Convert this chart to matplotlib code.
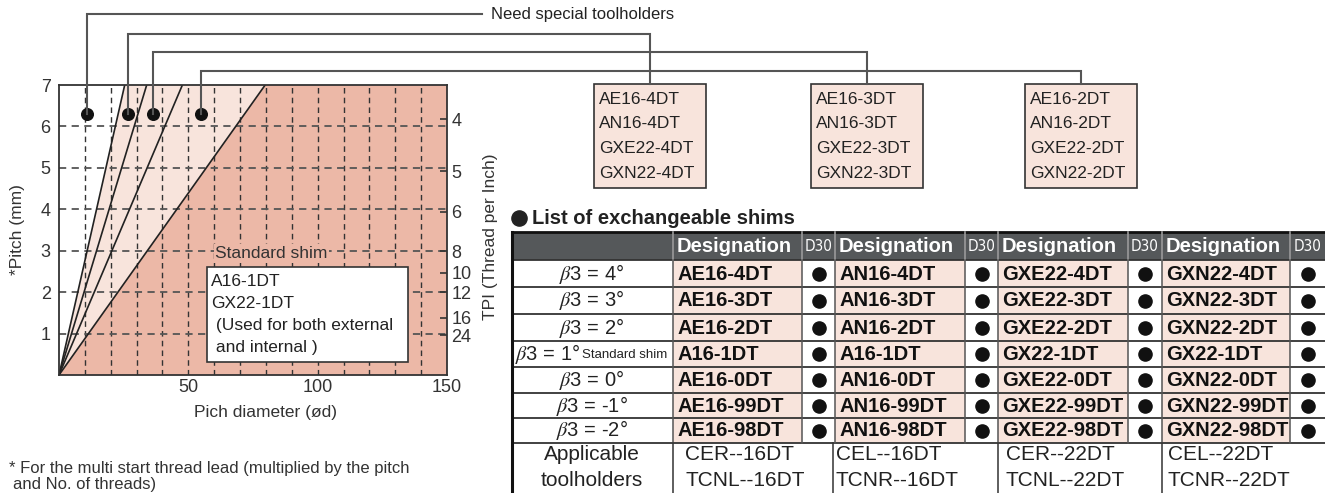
import numpy as np
import matplotlib.pyplot as plt
from matplotlib.patches import Rectangle, Polygon

plt.rcParams['font.family'] = ['Liberation Sans', 'DejaVu Sans']
plt.rcParams['mathtext.fontset'] = 'stix'

# ---- chart data ----
pitch_ticks = [1, 2, 3, 4, 5, 6, 7]
dia_ticks = [50, 100, 150]
dia_grid = [10, 20, 30, 40, 50, 60, 70, 80, 90, 100, 110, 120, 130, 140]
tpi_labels = [4, 5, 6, 8, 10, 12, 16, 24]
tpi_pitch = [6.17, 4.92, 3.94, 2.99, 2.47, 2.0, 1.38, 0.96]
limit_dia = [25.4, 33.9, 47.7, 79.7]   # diameter where each limit line meets pitch 7
dot_dia = [11, 26.5, 36.5, 54.8]
dot_pitch = [6.3, 6.3, 6.3, 6.3]

standard_shim = ["A16-1DT", "GX22-1DT", " (Used for both external", " and internal )"]
special_shims = [
    ["AE16-4DT", "AN16-4DT", "GXE22-4DT", "GXN22-4DT"],
    ["AE16-3DT", "AN16-3DT", "GXE22-3DT", "GXN22-3DT"],
    ["AE16-2DT", "AN16-2DT", "GXE22-2DT", "GXN22-2DT"],
]

# ---- table data ----
beta_angles = ["4°", "3°", "2°", "1°", "0°", "-1°", "-2°"]
ae16 = ["AE16-4DT", "AE16-3DT", "AE16-2DT", "A16-1DT", "AE16-0DT", "AE16-99DT", "AE16-98DT"]
an16 = ["AN16-4DT", "AN16-3DT", "AN16-2DT", "A16-1DT", "AN16-0DT", "AN16-99DT", "AN16-98DT"]
gxe22 = ["GXE22-4DT", "GXE22-3DT", "GXE22-2DT", "GX22-1DT", "GXE22-0DT", "GXE22-99DT", "GXE22-98DT"]
gxn22 = ["GXN22-4DT", "GXN22-3DT", "GXN22-2DT", "GX22-1DT", "GXN22-0DT", "GXN22-99DT", "GXN22-98DT"]
d30 = [[True] * 7, [True] * 7, [True] * 7, [True] * 7]
toolholders = [["CER--16DT", "TCNL--16DT"], ["CEL--16DT", "TCNR--16DT"],
               ["CER--22DT", "TCNL--22DT"], ["CEL--22DT", "TCNR--22DT"]]

LIGHT = '#f8e4dc'
DARK = '#ecb8a7'
HEAD = '#55585a'
EDGE = '#333333'

W, H = 1325, 493
fig = plt.figure(figsize=(W / 100, H / 100), dpi=100)

# ---- chart ----
ax = fig.add_axes([59 / W, (H - 375) / H, (447 - 59) / W, (375 - 85) / H])
ax.set_xlim(0, 150)
ax.set_ylim(0, 7)
ax.add_patch(Polygon([(0, 0), (limit_dia[0], 7), (limit_dia[-1], 7)], fc=LIGHT, ec='none', zorder=0))
ax.add_patch(Polygon([(0, 0), (limit_dia[-1], 7), (150, 7), (150, 0)], fc=DARK, ec='none', zorder=0))
for x in dia_grid:
    ax.axvline(x, color='#333333', lw=1.0, ls=(0, (4, 3)), zorder=1)
for y in pitch_ticks[:-1]:
    ax.axhline(y, color='#555555', lw=1.3, ls=(0, (4, 3)), zorder=1)
for d in limit_dia:
    ax.plot([0, d], [0, 7], color='#222222', lw=1.2, zorder=2)
ax.scatter(dot_dia, dot_pitch, s=70, color='#111111', zorder=3)

ax.set_xticks(dia_ticks)
ax.set_yticks(pitch_ticks)
ax.tick_params(length=0, labelsize=13, labelcolor='#333333')
ax.tick_params(axis='x', pad=3)
ax.tick_params(axis='y', pad=6)
for s in ax.spines.values():
    s.set_color(EDGE)
    s.set_linewidth(1.3)

ax2 = ax.twinx()
ax2.set_ylim(0, 7)
ax2.set_yticks(tpi_pitch, [str(t) for t in tpi_labels])
ax2.tick_params(direction='in', length=5, width=1.2, pad=3, labelsize=13,
                color=EDGE, labelcolor='#333333')
for s in ax2.spines.values():
    s.set_visible(False)

# ---- overlay in pixel coordinates ----
ov = fig.add_axes([0, 0, 1, 1])
ov.set_xlim(0, W)
ov.set_ylim(H, 0)
ov.axis('off')

ov.text(18, 230, "*Pitch (mm)", rotation=90, ha='center', va='center', fontsize=12.5, color='#333333')
ov.text(265, 413, "Pich diameter (ød)", ha='center', va='center', fontsize=12.5, color='#333333')
ov.text(490, 237, "TPI (Thread per Inch)", rotation=90, ha='center', va='center', fontsize=12.5, color='#333333')

ov.text(215, 253, "Standard shim", ha='left', va='center', fontsize=12.5, color='#333333',
        bbox=dict(fc=DARK, ec='none', pad=1))
ov.add_patch(Rectangle((207, 267), 201, 95, fc='white', ec=EDGE, lw=1.2))
for i, s in enumerate(standard_shim):
    ov.text(211, 282 + i * 21.7, s, ha='left', va='center', fontsize=12.5, color='#222222')

ov.text(9, 468, "* For the multi start thread lead (multiplied by the pitch", ha='left', va='center',
        fontsize=12, color='#333333')
ov.text(13, 485, "and No. of threads)", ha='left', va='center', fontsize=12, color='#333333')

# connectors from dots
box_left = [594, 811, 1025]
box_w = 112
level_y = [14, 34, 52, 70.7]
for i in range(len(dot_dia)):
    px, py = ax.transData.transform((dot_dia[i], dot_pitch[i]))
    py = H - py
    if i == 0:
        xs = [px, px, 482]
        ys = [py, level_y[i], level_y[i]]
    else:
        cx = box_left[i - 1] + box_w / 2
        xs = [px, px, cx, cx]
        ys = [py, level_y[i], level_y[i], 84]
    ov.plot(xs, ys, color='#555555', lw=1.5, solid_joinstyle='miter')
ov.text(491, 15, "Need special toolholders", ha='left', va='center', fontsize=12, color='#222222')

for b, names in enumerate(special_shims):
    ov.add_patch(Rectangle((box_left[b], 84), box_w, 104, fc=LIGHT, ec=EDGE, lw=1.2))
    for j, s in enumerate(names):
        ov.text(box_left[b] + 5, 99 + j * 24.7, s, ha='left', va='center', fontsize=12.5, color='#222222')

# ---- table ----
ov.scatter([519], [218], s=120, color='#222222')
ov.text(532, 218, "List of exchangeable shims", ha='left', va='center', fontsize=14.5,
        fontweight='bold', color='#222222')

col_edges = [512, 673, 802, 835, 965, 998, 1128, 1162, 1290, 1325]
row_edges = [232, 260, 287, 314, 341, 367, 393, 418, 443, 493]
design_cols = [ae16, an16, gxe22, gxn22]

ov.add_patch(Rectangle((512, 232), 1325 - 512, 28, fc=HEAD, ec='none'))
for c in range(4):
    x0 = col_edges[1 + 2 * c]
    x1 = col_edges[2 + 2 * c]
    x2 = col_edges[3 + 2 * c]
    ov.text(x0 + 4, 246.5, "Designation", ha='left', va='center', fontsize=14.5,
            fontweight='bold', color='white')
    ov.text((x1 + x2) / 2, 246.5, "D30", ha='center', va='center', fontsize=11,
            family='DejaVu Sans', fontstretch='condensed', color='white')
    for r in range(7):
        y0, y1 = row_edges[r + 1], row_edges[r + 2]
        ov.add_patch(Rectangle((x0, y0), x1 - x0, y1 - y0, fc=LIGHT, ec='none'))
        ov.text(x0 + 4, (y0 + y1) / 2 + 0.5, design_cols[c][r], ha='left', va='center',
                fontsize=14.5, fontweight='bold', color='#111111')
    ys = [(row_edges[r + 1] + row_edges[r + 2]) / 2 for r in range(7) if d30[c][r]]
    ov.scatter([(x1 + x2) / 2] * len(ys), ys, s=90, color='#111111', zorder=3)

for r, a in enumerate(beta_angles):
    yc = (row_edges[r + 1] + row_edges[r + 2]) / 2
    if r == 3:
        t = ov.text(515, yc, r"$\beta$3 = " + a, ha='left', va='center', fontsize=14.5, color='#222222')
        ov.annotate("Standard shim", xy=(1, 0.22), xycoords=t, xytext=(1, 0), textcoords='offset points',
                    ha='left', va='bottom', fontsize=9.5, color='#222222')
    else:
        ov.text(592, yc, r"$\beta$3 = " + a, ha='center', va='center', fontsize=14.5, color='#222222')

ov.text(592, 455, "Applicable", ha='center', va='center', fontsize=15, color='#222222')
ov.text(592, 480, "toolholders", ha='center', va='center', fontsize=15, color='#222222')
th_x = [685, 836, 1006, 1168]
for c, pair in enumerate(toolholders):
    ov.text(th_x[c], 455, pair[0], ha='left', va='center', fontsize=15, color='#222222')
    ov.text(th_x[c], 480, pair[1], ha='left', va='center', fontsize=15, color='#222222')

# grid lines of the table
for y in row_edges[1:9]:
    ov.plot([512, 1325], [y, y], color=EDGE, lw=1.3)
ov.plot([512, 1325], [232, 232], color='#111111', lw=2)
for x in col_edges[1:-1]:
    ov.plot([x, x], [232, 260], color='#9a9a9a', lw=1.2)
    ov.plot([x, x], [260, 443], color='#555555', lw=1.1)
for x in [673, 833, 998, 1162]:
    ov.plot([x, x], [443, 493], color=EDGE, lw=1.1)
ov.plot([512, 512], [232, 493], color='#111111', lw=2.2)

fig.savefig("out.png", dpi=100)
